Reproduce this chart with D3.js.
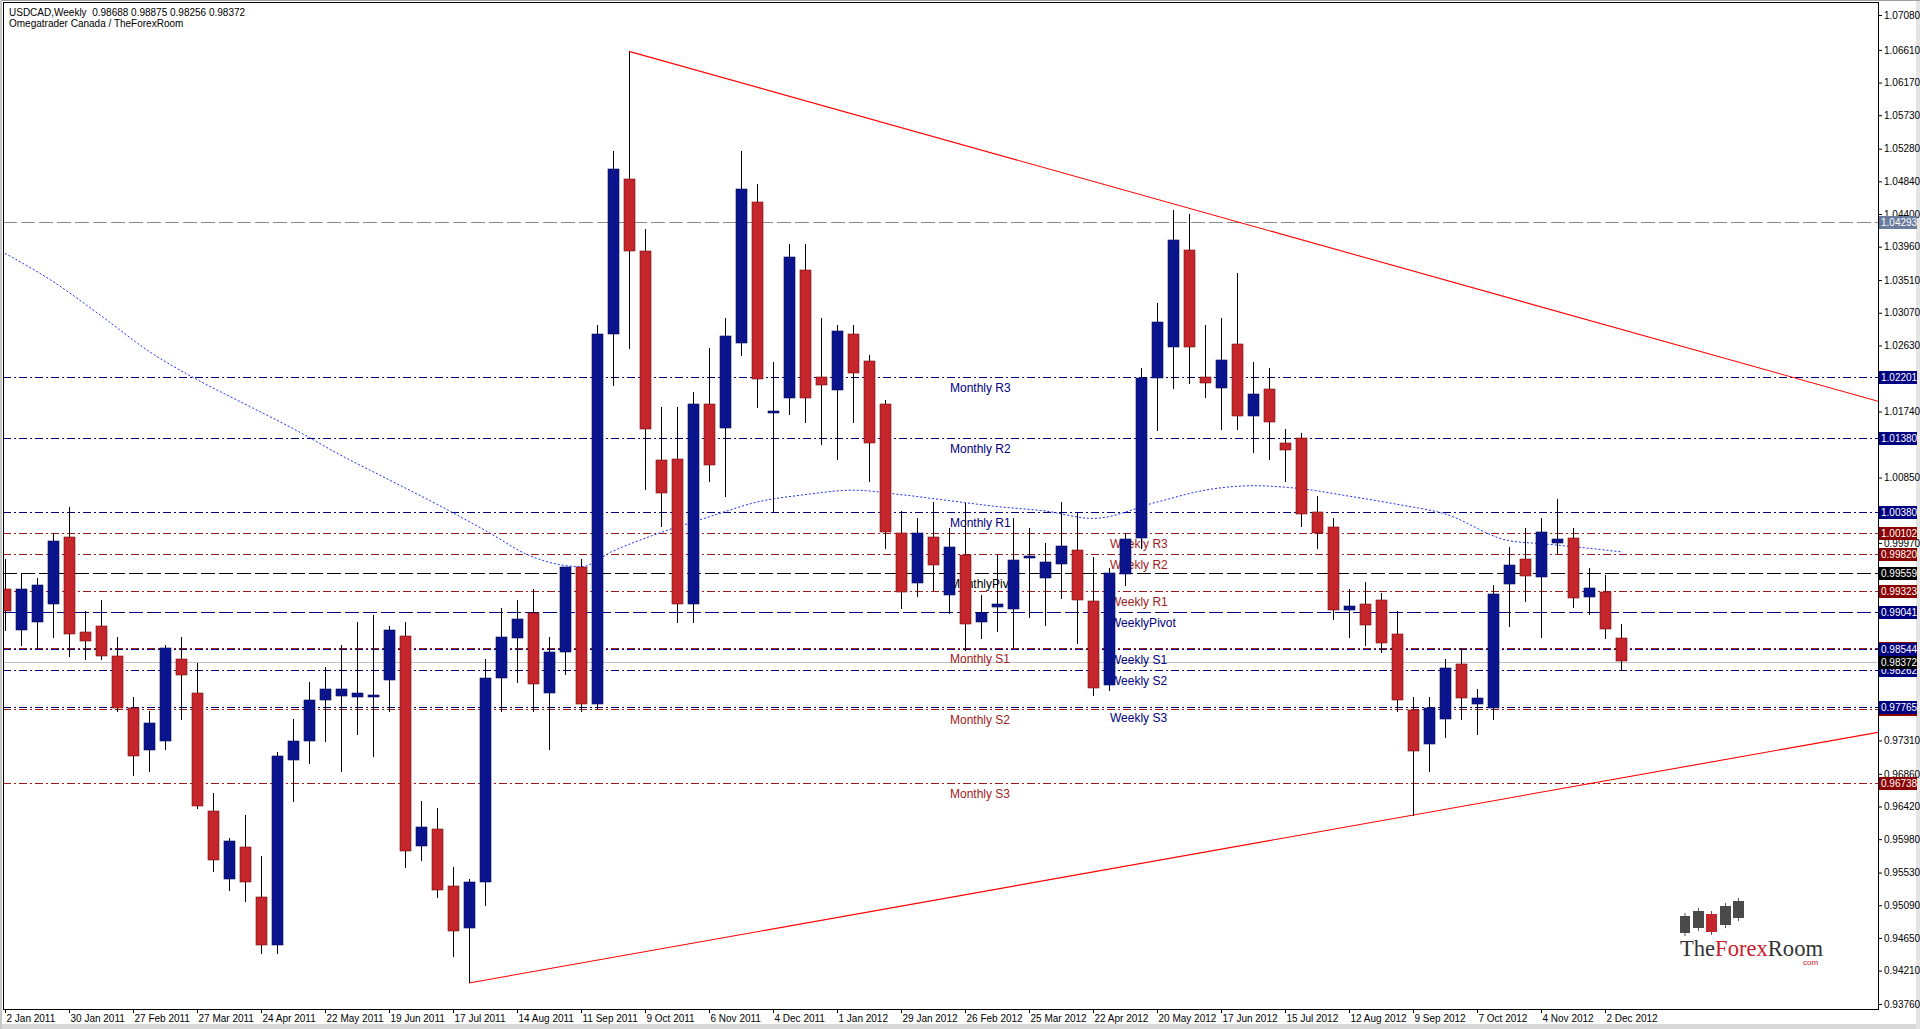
<!DOCTYPE html>
<html><head><meta charset="utf-8">
<script src="https://cdn.jsdelivr.net/npm/d3@7"></script>
<style>
html,body{margin:0;padding:0;background:#fff;overflow:hidden}
svg{display:block}
</style></head><body>
<svg id="chart" width="1920" height="1029"></svg>
<script>
// ---------------- DATA ----------------
const symbolTitle = "USDCAD,Weekly";
const headerOHLC = ["0.98688","0.98875","0.98256","0.98372"];
const subTitle = "Omegatrader Canada / TheForexRoom";
// weekly bars starting 2 Jan 2011 (index 0) to 9 Dec 2012 (index 101)
const open  = [0.9935,0.9880,0.9890,0.9915,1.0005,0.9877,0.9885,0.9845,0.9775,0.9718,
               0.9730,0.9840,0.9795,0.9636,0.9545,0.9587,0.9520,0.9455,0.9705,0.9730,
               0.9785,0.9790,0.9790,0.9790,0.9812,0.9872,0.9590,0.9612,0.9535,0.9478,
               0.9540,0.9815,0.9870,0.9903,0.9795,0.9850,0.9965,0.9780,1.0278,1.0487,
               1.0390,1.0108,1.0110,0.9915,1.0184,1.0151,1.0266,1.0456,1.0172,1.0192,
               1.0365,1.0220,1.0204,1.0278,1.0242,1.0184,1.0011,0.9943,1.0005,0.9928,
               0.9981,0.9891,0.9911,0.9908,0.9976,0.9950,0.9969,0.9988,0.9919,0.9806,
               0.9955,1.0004,1.0219,1.0261,1.0392,1.0220,1.0206,1.0265,1.0168,1.0204,
               1.0131,1.0138,1.0039,1.0019,0.9907,0.9915,0.9920,0.9874,0.9772,0.9727,
               0.9760,0.9834,0.9780,0.9775,0.9942,0.9975,0.9951,0.9997,1.0004,0.9924,
               0.9931,0.98688];
const high  = [0.9975,0.9955,0.9950,1.0010,1.0045,0.9905,0.9920,0.9870,0.9790,0.9770,
               0.9860,0.9870,0.9835,0.9660,0.9600,0.9630,0.9575,0.9715,0.9760,0.9810,
               0.9830,0.9860,0.9890,0.9900,0.9885,0.9890,0.9650,0.9640,0.9560,0.9545,
               0.9840,0.9910,0.9920,0.9935,0.9870,0.9965,0.9975,1.0290,1.0525,1.0658,
               1.0420,1.0180,1.0180,1.0200,1.0260,1.0300,1.0525,1.0480,1.0240,1.0400,
               1.0400,1.0300,1.0290,1.0290,1.0250,1.0190,1.0040,1.0030,1.0052,1.0017,
               1.0051,0.9927,0.9981,1.0031,1.0017,0.9997,1.0052,1.0037,0.9978,0.9963,
               1.0010,1.0233,1.0320,1.0445,1.0440,1.0290,1.0300,1.0360,1.0240,1.0233,
               1.0150,1.0145,1.0060,1.0030,0.9935,0.9945,0.9930,0.9905,0.9790,0.9790,
               0.9840,0.9855,0.9800,0.9940,0.9992,1.0017,1.0031,1.0056,1.0017,0.9963,
               0.9954,0.98875];
const low   = [0.9880,0.9860,0.9855,0.9870,0.9845,0.9840,0.9840,0.9770,0.9685,0.9690,
               0.9720,0.9760,0.9640,0.9555,0.9530,0.9515,0.9445,0.9445,0.9650,0.9700,
               0.9730,0.9690,0.9740,0.9710,0.9770,0.9560,0.9570,0.9520,0.9440,0.9406,
               0.9510,0.9770,0.9810,0.9770,0.9720,0.9820,0.9770,0.9775,1.0210,1.0260,
               1.0070,1.0020,0.9890,0.9890,1.0080,1.0060,1.0250,1.0180,1.0040,1.0170,
               1.0160,1.0130,1.0110,1.0160,1.0080,0.9990,0.9910,0.9925,0.9934,0.9903,
               0.9853,0.9869,0.9878,0.9857,0.9897,0.9886,0.9923,0.9862,0.9792,0.9799,
               0.9940,0.9990,1.0149,1.0206,1.0212,1.0194,1.0150,1.0150,1.0120,1.0110,
               1.0080,1.0020,0.9990,0.9895,0.9870,0.9860,0.9850,0.9770,0.9631,0.9690,
               0.9735,0.9760,0.9740,0.9760,0.9885,0.9919,0.9870,0.9983,0.9911,0.9901,
               0.9869,0.98256];
const close = [0.9905,0.9935,0.9940,1.0000,0.9875,0.9865,0.9845,0.9775,0.9710,0.9755,
               0.9855,0.9818,0.9643,0.9570,0.9596,0.9540,0.9455,0.9710,0.9730,0.9785,
               0.9800,0.9800,0.9795,0.9792,0.9880,0.9583,0.9615,0.9530,0.9475,0.9540,
               0.9815,0.9870,0.9895,0.9807,0.9850,0.9965,0.9780,1.0278,1.0500,1.0390,
               1.0150,1.0064,0.9915,1.0184,1.0102,1.0275,1.0473,1.0217,1.0175,1.0382,
               1.0192,1.0209,1.0283,1.0225,1.0131,1.0011,0.9932,1.0010,0.9967,0.9992,
               0.9888,0.9903,0.9915,0.9974,0.9979,0.9971,0.9993,0.9920,0.9802,0.9957,
               1.0002,1.0219,1.0295,1.0405,1.0262,1.0212,1.0244,1.0168,1.0197,1.0159,
               1.0121,1.0036,1.0011,0.9907,0.9912,0.9887,0.9862,0.9785,0.9717,0.9775,
               0.9829,0.9788,0.9788,0.9928,0.9967,0.9952,1.0012,1.0002,0.9923,0.9936,
               0.9881,0.98372];
// moving average (read at selected bars)
const maBars   = [0,3,6,9,12,15,18,21,24,27,30,33,36,38,41,44,47,50,53,56,59,62,65,68,72,75,78,81,84,87,90,94,96,98,101];
const maValues = [1.0387,1.0349,1.0303,1.0255,1.0217,1.0184,1.0151,1.0115,1.0082,1.0049,1.0014,0.9978,0.9965,0.9986,1.0011,1.0032,1.0052,1.0062,1.0068,1.0062,1.0054,1.0046,1.0040,1.0030,1.0052,1.0068,1.0074,1.0070,1.0060,1.0049,1.0036,1.0000,0.9996,0.9992,0.9985];
// trend lines (bar index, price)
const upperTrendBars = [39, 117.2], upperTrendPrices = [1.0659, 1.0187];
const lowerTrendBars = [29, 117.2], lowerTrendPrices = [0.94043, 0.97424];
// date axis
const dateTickLabels = ["2 Jan 2011","30 Jan 2011","27 Feb 2011","27 Mar 2011","24 Apr 2011","22 May 2011","19 Jun 2011","17 Jul 2011","14 Aug 2011","11 Sep 2011","9 Oct 2011","6 Nov 2011","4 Dec 2011","1 Jan 2012","29 Jan 2012","26 Feb 2012","25 Mar 2012","22 Apr 2012","20 May 2012","17 Jun 2012","15 Jul 2012","12 Aug 2012","9 Sep 2012","7 Oct 2012","4 Nov 2012","2 Dec 2012"];
const dateTickBars = dateTickLabels.map((d,i)=>i*4);
// price axis (labels visible beside the highlighted level labels)
const priceTicks = [1.07080,1.06610,1.06170,1.05730,1.05280,1.04840,1.04400,1.03960,1.03510,1.03070,1.02630,1.01740,1.00850,0.99970,0.97310,0.96860,0.96420,0.95980,0.95530,0.95090,0.94650,0.94210,0.93760];
// pivot levels
const monthlyNames  = ["Monthly R3","Monthly R2","Monthly R1","MonthlyPivot","Monthly S1","Monthly S2","Monthly S3"];
const monthlyPrices = [1.02201,1.01380,1.00380,0.99559,0.98550,0.97738,0.96738];
const weeklyNames   = ["Weekly R3","Weekly R2","Weekly R1","WeeklyPivot","Weekly S1","Weekly S2","Weekly S3"];
const weeklyPrices  = [1.00102,0.99820,0.99323,0.99041,0.98544,0.98262,0.97765];
const highLinePrice = 1.04293;
const bidPrice = 0.98372;

// ---------------- LAYOUT / STYLE ----------------
const NAVY="#000080", DRED="#a01c1c", DREDBG="#8b0000", BLACK="#000000";
const BULL="#0a148c", BEAR="#c4262c";
const PL=3, PT=2, PR=1878, PB=1009;
const FONT='"Liberation Sans", Arial, sans-serif';

const svg = d3.select("#chart");
const x = d3.scaleLinear().domain([0,100]).range([5,1605]);
const y = d3.scaleLinear().domain([0.93760,1.07080]).range([1004,15]);
const snap = v => Math.round(v)+0.5;

svg.append("rect").attr("width",1920).attr("height",1029).attr("fill","#fff");
svg.append("rect").attr("x",0).attr("y",1024).attr("width",1920).attr("height",5).attr("fill","#d8d8d8");
svg.append("rect").attr("x",1916).attr("y",0).attr("width",4).attr("height",1029).attr("fill","#e4e4e4");
svg.append("rect").attr("x",0).attr("y",0).attr("width",1920).attr("height",1).attr("fill","#a0a0a0");
svg.append("rect").attr("x",0).attr("y",0).attr("width",2).attr("height",1029).attr("fill","#c8c8c8");

svg.append("defs").append("clipPath").attr("id","pc")
  .append("rect").attr("x",PL).attr("y",PT).attr("width",PR-PL).attr("height",PB-PT);
const g = svg.append("g").attr("clip-path","url(#pc)");

function hline(p,color,dash){
  g.append("line").attr("x1",PL).attr("x2",PR).attr("y1",snap(y(p))).attr("y2",snap(y(p)))
   .attr("stroke",color).attr("stroke-width",1).attr("stroke-dasharray",dash).attr("shape-rendering","crispEdges");
}
const DASHDOT="8,3,2,3", DASH="14,4";
hline(highLinePrice,"#8a8a8a",DASH);
hline(bidPrice,"#c0c0c0",null);
const mColor = i => i<3?NAVY:(i===3?BLACK:DRED);
const wColor = i => i<3?DRED:NAVY;
monthlyPrices.forEach((p,i)=>hline(p,mColor(i), i===3?DASH:DASHDOT));
weeklyPrices.forEach((p,i)=>hline(p,wColor(i), i===3?DASH:DASHDOT));

monthlyNames.forEach((n,i)=>{
  g.append("text").attr("x",x(59)+1).attr("y",y(monthlyPrices[i])+15).text(n)
   .attr("font-family",FONT).attr("font-size",12).attr("fill",mColor(i));
});
weeklyNames.forEach((n,i)=>{
  g.append("text").attr("x",x(69)+1).attr("y",y(weeklyPrices[i])+15).text(n)
   .attr("font-family",FONT).attr("font-size",12).attr("fill",wColor(i));
});

g.append("path").datum(maBars.map((b,i)=>[b,maValues[i]]))
  .attr("d",d3.line().x(d=>x(d[0])).y(d=>y(d[1])).curve(d3.curveMonotoneX))
  .attr("fill","none").attr("stroke","#1e2cff").attr("stroke-width",1).attr("stroke-dasharray","2,2");

[[upperTrendBars,upperTrendPrices],[lowerTrendBars,lowerTrendPrices]].forEach(([b,p])=>{
  g.append("line").attr("x1",x(b[0])).attr("y1",y(p[0])).attr("x2",x(b[1])).attr("y2",y(p[1]))
   .attr("stroke","#ff0000").attr("stroke-width",1.1);
});

const idx = d3.range(open.length);
g.selectAll(".wick").data(idx).join("line").attr("class","wick")
  .attr("x1",i=>Math.round(x(i))+0.5).attr("x2",i=>Math.round(x(i))+0.5)
  .attr("y1",i=>Math.round(y(high[i]))).attr("y2",i=>Math.round(y(low[i]))+1)
  .attr("stroke","#000").attr("stroke-width",1).attr("shape-rendering","crispEdges");
g.selectAll(".body").data(idx).join("rect").attr("class","body")
  .attr("x",i=>Math.round(x(i))-5)
  .attr("width",11)
  .attr("y",i=>Math.round(y(Math.max(open[i],close[i]))))
  .attr("height",i=>Math.max(2,Math.round(Math.abs(y(open[i])-y(close[i])))))
  .attr("fill",i=>close[i]>=open[i]?BULL:BEAR)
  .attr("stroke",i=>close[i]>=open[i]?"#050a5a":"#7a1010").attr("stroke-width",0.6);

svg.append("rect").attr("x",PL+0.5).attr("y",PT+0.5).attr("width",PR-PL).attr("height",PB-PT)
  .attr("fill","none").attr("stroke","#000").attr("shape-rendering","crispEdges");

const ya = svg.append("g").attr("transform",`translate(${PR},0)`)
  .call(d3.axisRight(y).tickValues(priceTicks).tickSize(4).tickPadding(2).tickFormat(d3.format(".5f")));
ya.select(".domain").remove();
ya.selectAll("text").attr("font-family",FONT).attr("font-size",10).attr("fill","#000");
ya.selectAll("line").attr("stroke","#000");

const xa = svg.append("g").attr("transform",`translate(0,${PB})`)
  .call(d3.axisBottom(x).tickValues(dateTickBars).tickSize(4).tickFormat((d,i)=>dateTickLabels[i]));
xa.select(".domain").remove();
xa.selectAll("text").attr("font-family",FONT).attr("font-size",10).attr("fill","#000")
  .attr("text-anchor","start").attr("x",1).attr("dy","0.6em");
xa.selectAll("line").attr("stroke","#000");

function plabel(p,bg){
  const yy=Math.round(y(p));
  svg.append("rect").attr("x",PR+1).attr("y",yy-6).attr("width",38).attr("height",13).attr("fill",bg);
  svg.append("text").attr("x",PR+3).attr("y",yy+4).text(d3.format(".5f")(p))
    .attr("font-family",FONT).attr("font-size",10).attr("fill","#fff");
}
// labels of levels fully covered by another level label are drawn as bare boxes
function pbox(p,bg){
  const yy=Math.round(y(p));
  svg.append("rect").attr("x",PR+1).attr("y",yy-6).attr("width",38).attr("height",13).attr("fill",bg);
}
pbox(monthlyPrices[5],DREDBG);
pbox(monthlyPrices[4],DREDBG);
plabel(highLinePrice,"#6a7b9b");
[0,1,2].forEach(i=>plabel(monthlyPrices[i],NAVY));
plabel(monthlyPrices[3],BLACK);
[0,1,2].forEach(i=>plabel(weeklyPrices[i],DREDBG));
[3,4,5,6].forEach(i=>plabel(weeklyPrices[i],NAVY));
plabel(monthlyPrices[6],DREDBG);
plabel(bidPrice,BLACK);

svg.append("text").attr("x",9).attr("y",16).attr("font-family",FONT).attr("font-size",10).attr("fill","#000")
  .attr("xml:space","preserve").text(symbolTitle+"  "+headerOHLC.join(" "));
svg.append("text").attr("x",9).attr("y",27).attr("font-family",FONT).attr("font-size",10).attr("fill","#000")
  .text(subTitle);

const logo = svg.append("g");
const lb=[[1680,916,10,17,"#4a4a4a"],[1693,911,11,17,"#4a4a4a"],[1706,914,11,18,"#c4262c"],[1720,906,11,19,"#4a4a4a"],[1733,901,11,17,"#4a4a4a"]];
lb.forEach(b=>{
  logo.append("line").attr("x1",b[0]+b[2]/2).attr("x2",b[0]+b[2]/2).attr("y1",b[1]-3).attr("y2",b[1]+b[3]+3).attr("stroke","#555");
  logo.append("rect").attr("x",b[0]).attr("y",b[1]).attr("width",b[2]).attr("height",b[3]).attr("fill",b[4]);
});
const lt = logo.append("text").attr("x",1680).attr("y",956).attr("font-family",'"Liberation Serif","Times New Roman",serif')
  .attr("font-size",24).attr("textLength",143).attr("lengthAdjust","spacingAndGlyphs");
lt.append("tspan").attr("fill","#333").text("The");
lt.append("tspan").attr("fill","#c8202a").text("Forex");
lt.append("tspan").attr("fill","#333").text("Room");
logo.append("text").attr("x",1803).attr("y",965).attr("font-family",FONT).attr("font-size",8).attr("fill","#c8202a").text("com");
</script>
</body></html>
